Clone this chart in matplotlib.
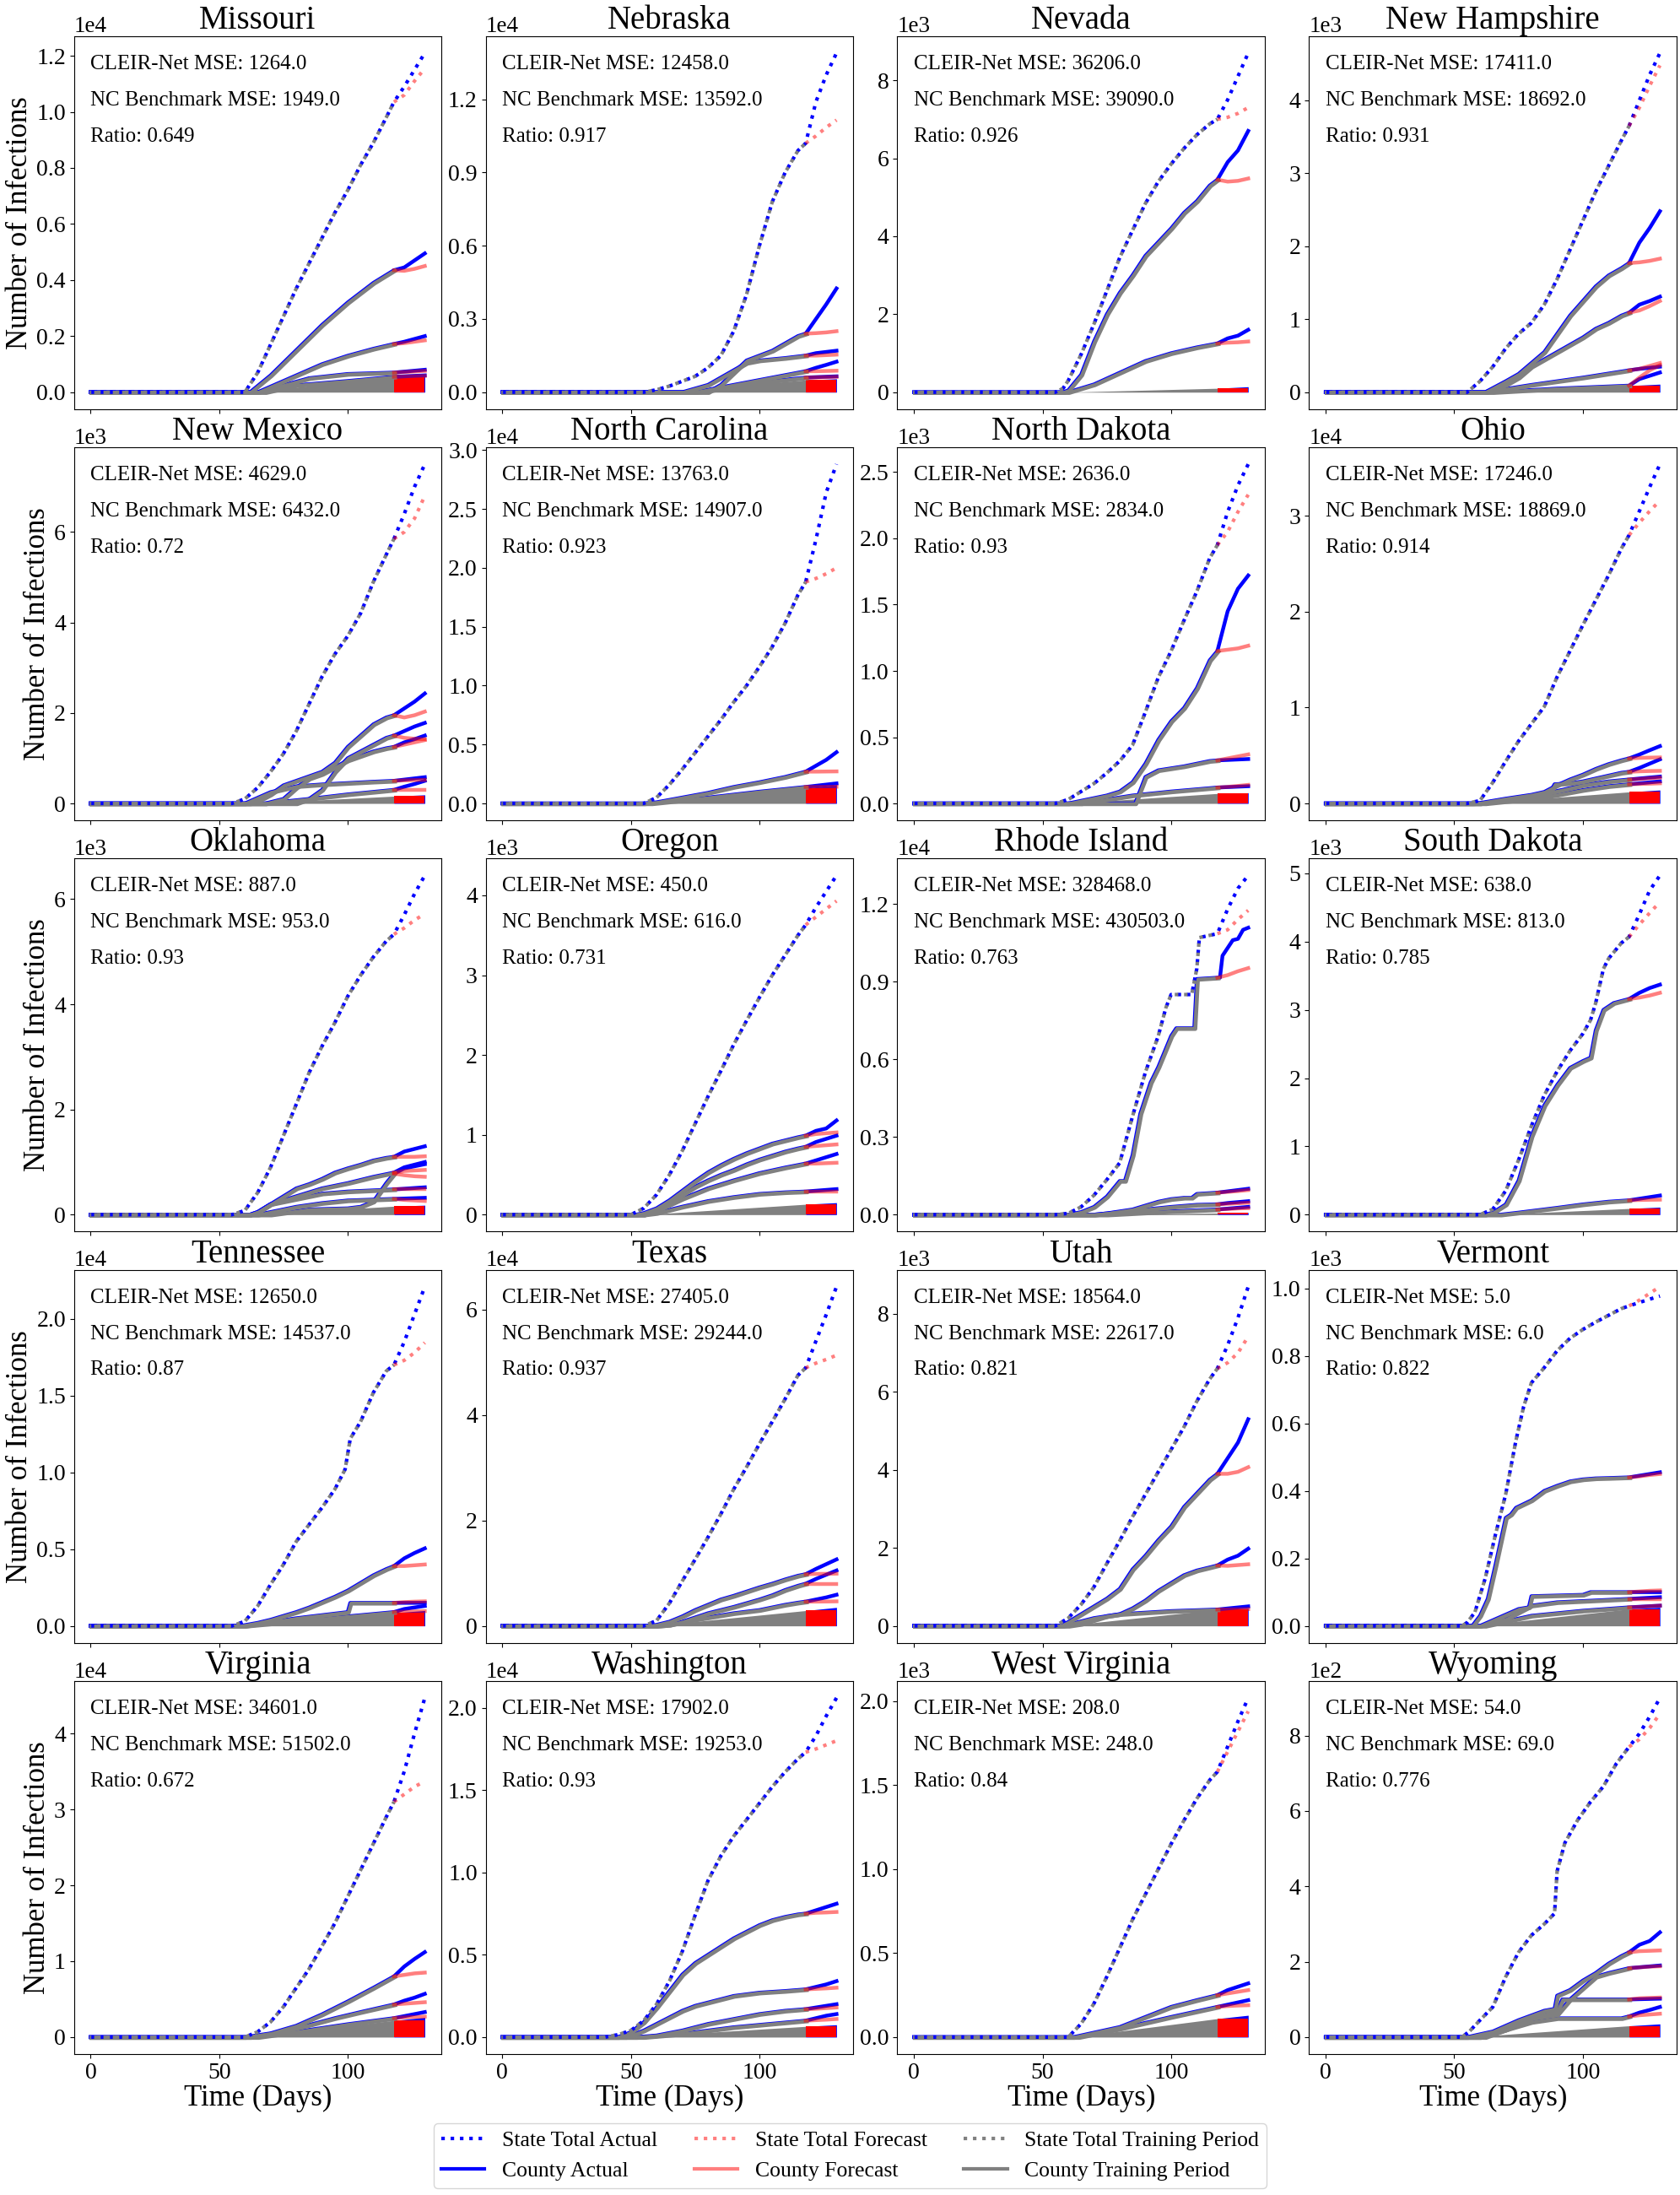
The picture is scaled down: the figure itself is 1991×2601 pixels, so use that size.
import matplotlib
matplotlib.use('Agg')
import matplotlib.pyplot as plt
import matplotlib.transforms as mtransforms
from matplotlib.lines import Line2D
from matplotlib.ticker import MultipleLocator, ScalarFormatter

plt.rcParams['font.family'] = ['Liberation Serif', 'DejaVu Serif']

STATES = ['Missouri', 'Nebraska', 'Nevada', 'New Hampshire', 'New Mexico',
          'North Carolina', 'North Dakota', 'Ohio', 'Oklahoma', 'Oregon',
          'Rhode Island', 'South Dakota', 'Tennessee', 'Texas', 'Utah',
          'Vermont', 'Virginia', 'Washington', 'West Virginia', 'Wyoming']
CLEIR_MSE = [1264.0, 12458.0, 36206.0, 17411.0, 4629.0, 13763.0, 2636.0, 17246.0,
             887.0, 450.0, 328468.0, 638.0, 12650.0, 27405.0, 18564.0, 5.0,
             34601.0, 17902.0, 208.0, 54.0]
NC_MSE = [1949.0, 13592.0, 39090.0, 18692.0, 6432.0, 14907.0, 2834.0, 18869.0,
          953.0, 616.0, 430503.0, 813.0, 14537.0, 29244.0, 22617.0, 6.0,
          51502.0, 19253.0, 248.0, 69.0]
RATIO = [0.649, 0.917, 0.926, 0.931, 0.72, 0.923, 0.93, 0.914, 0.93, 0.731,
         0.763, 0.785, 0.87, 0.937, 0.821, 0.822, 0.672, 0.93, 0.84, 0.776]
YSTEP = [2000, 3000, 2000, 1000, 2000, 5000, 500, 10000, 2000, 1000,
         3000, 1000, 5000, 20000, 2000, 200, 10000, 5000, 500, 200]

TRAIN_END = 118
FC_DAYS = [118, 122, 126, 130]

# state totals (day, cases)
TOTAL_ACTUAL = [
    [(0,0),(60,0),(65,700),(70,1700),(75,2700),(80,3700),(85,4600),(90,5500),(95,6400),(100,7200),(105,8100),(110,8900),(115,9800),(118,10350),(122,10900),(126,11500),(130,12100)],
    [(0,0),(55,0),(60,100),(65,250),(70,450),(75,650),(80,1000),(85,1500),(90,2500),(95,4000),(100,6000),(105,7800),(110,9000),(115,9900),(118,10200),(122,11900),(126,13000),(130,13900)],
    [(0,0),(55,0),(58,100),(60,300),(65,970),(70,1750),(75,2600),(80,3450),(85,4150),(90,4840),(95,5400),(100,5850),(105,6250),(110,6600),(115,6880),(118,7000),(122,7500),(126,8100),(130,8700)],
    [(0,0),(55,0),(60,150),(65,350),(70,600),(75,800),(80,950),(85,1200),(90,1550),(95,1950),(100,2350),(105,2750),(110,3100),(115,3450),(118,3650),(122,4000),(126,4350),(130,4650)],
    [(0,0),(55,0),(60,100),(65,350),(70,700),(75,1100),(80,1600),(85,2200),(90,2800),(95,3300),(100,3700),(105,4200),(110,4900),(115,5500),(118,5850),(122,6400),(126,7000),(130,7500)],
    [(0,0),(55,0),(60,500),(65,1600),(70,2900),(75,4300),(80,5700),(85,7100),(90,8600),(95,10000),(100,11600),(105,13300),(110,15300),(115,17700),(118,18800),(122,22400),(126,26400),(130,28800)],
    [(0,0),(55,0),(60,30),(65,90),(70,150),(75,230),(80,320),(85,440),(90,690),(95,950),(100,1150),(105,1380),(110,1600),(115,1850),(118,1950),(122,2200),(126,2400),(130,2560)],
    [(0,0),(55,0),(60,300),(65,2200),(70,4400),(75,6500),(80,8300),(85,10100),(90,13200),(95,15900),(100,18600),(105,21200),(110,23800),(115,26600),(118,28000),(122,30500),(126,33000),(130,35400)],
    [(0,0),(55,0),(60,80),(65,420),(70,900),(75,1500),(80,2100),(85,2700),(90,3200),(95,3650),(100,4150),(105,4550),(110,4900),(115,5200),(118,5330),(122,5700),(126,6100),(130,6450)],
    [(0,0),(50,0),(55,80),(60,250),(65,500),(70,800),(75,1140),(80,1480),(85,1800),(90,2130),(95,2430),(100,2720),(105,3000),(110,3250),(115,3500),(118,3630),(122,3850),(126,4050),(130,4250)],
    [(0,0),(55,0),(60,50),(65,300),(70,750),(75,1350),(80,2000),(85,3800),(90,5500),(95,6900),(98,8000),(100,8500),(108,8500),(110,9500),(111,10700),(118,10850),(122,11800),(126,12600),(130,13100)],
    [(0,0),(60,0),(65,80),(70,350),(75,800),(80,1300),(85,1750),(90,2100),(95,2400),(100,2650),(103,2850),(105,3100),(108,3600),(110,3750),(115,3980),(118,4070),(122,4400),(126,4750),(130,4970)],
    [(0,0),(55,0),(60,300),(65,1300),(70,2700),(75,4000),(80,5500),(85,6600),(90,7700),(95,8900),(99,10200),(101,12200),(105,13300),(110,15200),(115,16600),(118,17000),(122,18500),(126,20300),(130,22100)],
    [(0,0),(55,0),(60,1000),(65,4300),(70,8500),(75,12600),(80,16800),(85,21200),(90,25900),(95,30100),(100,34500),(105,38700),(110,43000),(115,47500),(118,48900),(122,54000),(126,59000),(130,64300)],
    [(0,0),(55,0),(60,200),(65,550),(70,1000),(75,1600),(80,2180),(85,2800),(90,3370),(95,3950),(100,4520),(105,5100),(110,5760),(115,6330),(118,6600),(122,7200),(126,7900),(130,8700)],
    [(0,0),(53,0),(55,10),(58,40),(62,140),(66,270),(70,390),(74,550),(77,650),(80,720),(85,765),(90,815),(95,852),(100,878),(105,900),(110,920),(115,940),(118,948),(122,958),(126,968),(130,977)],
    [(0,0),(60,0),(65,700),(70,2000),(75,4000),(80,6500),(85,9000),(90,12000),(95,15000),(100,18500),(105,22000),(110,25500),(115,29000),(118,31000),(122,35000),(126,40000),(130,44700)],
    [(0,0),(40,0),(45,150),(50,400),(55,1000),(60,2000),(65,3400),(70,5200),(75,7400),(80,9500),(85,11000),(90,12200),(95,13200),(100,14200),(105,15200),(110,16100),(115,16900),(118,17300),(122,18300),(126,19500),(130,20600)],
    [(0,0),(60,0),(65,80),(70,200),(75,360),(80,530),(85,700),(90,850),(95,1000),(100,1150),(105,1290),(110,1420),(115,1530),(118,1580),(122,1730),(126,1880),(130,2020)],
    [(0,0),(53,0),(56,16),(60,45),(65,80),(70,160),(75,225),(80,270),(85,300),(89,328),(90,440),(93,515),(98,576),(103,624),(108,665),(113,725),(118,770),(122,805),(126,850),(130,900)],
]
# state forecast at days 122, 126, 130
TOTAL_FORECAST = [
    [10600, 11100, 11550], [10500, 10850, 11150], [7050, 7150, 7300], [3900, 4200, 4480],
    [6000, 6300, 6800], [19100, 19500, 20000], [2050, 2200, 2330], [29300, 30500, 31600],
    [5450, 5600, 5720], [3730, 3830, 3930], [11000, 11400, 11750], [4250, 4420, 4580],
    [17300, 17800, 18450], [49800, 50500, 51300], [6750, 7000, 7420], [965, 985, 1005],
    [32000, 33000, 33700], [17500, 17750, 18000], [1700, 1820, 1940], [790, 820, 858],
]

# largest counties per state (day, cases)
COUNTY_ACTUAL = [
    [[(0,0),(62,0),(70,600),(80,1500),(90,2400),(100,3200),(110,3900),(118,4350),(122,4450),(126,4700),(130,4950)],
     [(0,0),(65,0),(70,200),(80,600),(90,1000),(100,1300),(110,1550),(118,1720),(122,1800),(126,1900),(130,2000)],
     [(0,0),(65,0),(75,250),(85,500),(100,650),(118,700),(130,800)],
     [(0,0),(68,0),(80,250),(100,400),(118,550),(130,600)]],
    [[(0,0),(80,0),(85,300),(90,800),(95,1300),(100,1500),(105,1700),(110,2000),(115,2300),(118,2400),(122,3000),(126,3600),(130,4250)],
     [(0,0),(70,0),(80,300),(90,900),(95,1200),(100,1300),(110,1400),(118,1500),(122,1600),(126,1650),(130,1700)],
     [(0,0),(75,0),(90,300),(100,500),(110,700),(118,860),(122,1000),(126,1120),(130,1250)],
     [(0,0),(75,0),(90,200),(100,400),(118,600),(130,650)]],
    [[(0,0),(58,0),(60,50),(65,450),(70,1300),(75,2000),(80,2550),(85,3000),(90,3500),(95,3850),(100,4200),(105,4600),(110,4900),(115,5300),(118,5450),(122,5900),(126,6200),(130,6700)],
     [(0,0),(60,0),(70,200),(80,500),(90,800),(100,1000),(110,1150),(118,1250),(122,1380),(126,1450),(130,1600)]],
    [[(0,0),(62,0),(70,150),(75,250),(80,400),(85,550),(90,800),(95,1050),(100,1250),(105,1450),(110,1600),(115,1700),(118,1770),(122,2050),(126,2250),(130,2480)],
     [(0,0),(62,0),(70,100),(75,200),(80,350),(85,450),(90,550),(95,650),(100,750),(105,870),(110,950),(115,1050),(118,1090),(122,1200),(126,1250),(130,1310)],
     [(0,0),(62,0),(80,100),(100,200),(118,300),(122,320),(130,350)],
     [(0,0),(65,0),(90,50),(118,90),(122,180),(130,270)]],
    [[(0,0),(62,0),(65,50),(70,200),(75,400),(80,500),(85,600),(90,700),(95,900),(100,1250),(105,1500),(110,1750),(115,1900),(118,1950),(122,2100),(126,2250),(130,2430)],
     [(0,0),(80,0),(85,100),(90,300),(95,700),(100,1000),(105,1150),(110,1300),(115,1450),(118,1500),(122,1600),(126,1700),(130,1780)],
     [(0,0),(68,0),(75,100),(80,350),(85,550),(90,650),(95,800),(100,950),(105,1050),(110,1150),(115,1220),(118,1250),(122,1350),(126,1420),(130,1500)],
     [(0,0),(60,0),(70,250),(80,380),(90,420),(100,450),(110,480),(118,500),(130,580)],
     [(0,0),(68,0),(85,100),(100,200),(118,300),(122,370),(126,430),(130,500)]],
    [[(0,0),(55,0),(60,100),(70,500),(80,900),(90,1400),(100,1800),(110,2250),(118,2700),(122,3200),(126,3700),(130,4350)],
     [(0,0),(58,0),(80,500),(100,1000),(118,1400),(122,1500),(126,1600),(130,1700)]],
    [[(0,0),(60,0),(65,20),(70,40),(75,60),(80,90),(85,160),(90,300),(95,480),(100,620),(105,720),(110,870),(115,1080),(118,1150),(122,1450),(126,1620),(130,1720)],
     [(0,0),(86,0),(87,50),(90,200),(95,250),(100,265),(105,280),(110,300),(115,320),(118,325),(130,335)],
     [(0,0),(65,0),(85,60),(100,90),(118,120),(130,130)]],
    [[(0,0),(57,0),(60,50),(70,500),(80,900),(85,1200),(90,1900),(95,2500),(100,3000),(105,3600),(110,4100),(115,4500),(118,4700),(122,5100),(126,5550),(130,5980)],
     [(0,0),(60,0),(70,400),(80,700),(87,1000),(89,2000),(95,2100),(100,2300),(105,2600),(110,2900),(115,3200),(118,3300),(122,3700),(126,4150),(130,4600)],
     [(0,0),(60,0),(75,500),(90,1300),(100,1900),(110,2300),(118,2500),(130,2800)],
     [(0,0),(62,0),(80,500),(90,900),(100,1400),(110,1800),(118,2000),(130,2300)]],
    [[(0,0),(62,0),(65,50),(70,200),(75,350),(80,500),(85,580),(90,680),(95,800),(100,880),(105,950),(110,1030),(115,1080),(118,1100),(122,1200),(126,1250),(130,1300)],
     [(0,0),(62,0),(65,50),(70,200),(80,350),(90,500),(100,600),(110,720),(118,800),(122,900),(126,950),(130,1000)],
     [(0,0),(70,0),(85,100),(100,120),(105,150),(110,250),(115,600),(118,780),(122,880),(126,920),(130,960)],
     [(0,0),(62,0),(65,50),(70,200),(80,300),(90,400),(100,440),(118,480),(130,520)],
     [(0,0),(65,0),(70,50),(80,150),(90,220),(100,270),(118,300),(130,320)]],
    [[(0,0),(52,0),(55,20),(60,80),(65,180),(70,300),(75,420),(80,530),(85,620),(90,700),(95,770),(100,830),(105,890),(110,930),(115,970),(118,990),(122,1050),(126,1080),(130,1180)],
     [(0,0),(55,0),(60,50),(65,150),(70,250),(75,350),(80,430),(85,500),(90,560),(95,630),(100,690),(105,740),(110,790),(115,830),(118,850),(122,910),(126,950),(130,990)],
     [(0,0),(55,0),(60,50),(70,200),(80,330),(90,430),(100,520),(110,590),(118,640),(122,680),(126,720),(130,760)],
     [(0,0),(55,0),(60,20),(70,100),(80,170),(90,220),(100,260),(110,280),(118,290),(130,320)]],
    [[(0,0),(60,0),(65,100),(70,300),(75,700),(80,1300),(82,1300),(85,2300),(88,3900),(92,5100),(95,5700),(100,6900),(102,7200),(109,7200),(110,9100),(118,9150),(119,9150),(120,10000),(124,10600),(126,10650),(128,11000),(130,11080)],
     [(0,0),(70,0),(75,50),(85,200),(90,350),(95,500),(100,600),(105,650),(108,650),(110,800),(118,850),(122,900),(126,950),(130,1000)],
     [(0,0),(70,0),(80,100),(90,200),(100,300),(110,380),(118,400),(122,450),(130,520)],
     [(0,0),(75,0),(90,80),(100,130),(110,170),(118,200),(130,300)]],
    [[(0,0),(62,0),(65,30),(70,150),(75,500),(80,1150),(85,1600),(90,1900),(95,2150),(100,2250),(103,2300),(105,2700),(108,3000),(112,3100),(118,3160),(122,3250),(126,3320),(130,3370)],
     [(0,0),(68,0),(75,30),(90,100),(100,150),(110,190),(118,210),(130,280)]],
    [[(0,0),(58,0),(60,50),(65,200),(70,400),(75,650),(80,900),(85,1200),(90,1550),(95,1900),(100,2300),(105,2800),(110,3300),(115,3700),(118,3900),(122,4400),(126,4750),(130,5050)],
     [(0,0),(60,0),(80,500),(100,900),(101,1500),(118,1500),(130,1500)],
     [(0,0),(60,0),(118,900),(122,1100),(126,1200),(130,1300)]],
    [[(0,0),(57,0),(60,200),(65,800),(70,1800),(75,3000),(80,4000),(85,5000),(90,5700),(95,6500),(100,7300),(105,8000),(110,8800),(115,9500),(118,9800),(122,10800),(126,11700),(130,12600)],
     [(0,0),(60,0),(65,200),(70,800),(75,1600),(80,2400),(85,3000),(90,3600),(95,4300),(100,5000),(105,5800),(110,6800),(115,7600),(118,8000),(122,8900),(126,9700),(130,10500)],
     [(0,0),(60,0),(65,200),(70,700),(75,1200),(80,1600),(85,2000),(90,2400),(95,2700),(100,3000),(105,3500),(110,4000),(115,4400),(118,4600),(122,5000),(126,5400),(130,5900)]],
    [[(0,0),(57,0),(60,100),(65,300),(70,500),(75,700),(80,950),(85,1450),(90,1800),(95,2200),(100,2550),(105,3050),(110,3400),(115,3750),(118,3900),(122,4300),(126,4700),(130,5300)],
     [(0,0),(60,0),(65,50),(70,150),(75,250),(80,300),(85,450),(90,650),(95,900),(100,1100),(105,1300),(110,1420),(115,1500),(118,1550),(122,1700),(126,1800),(130,1980)],
     [(0,0),(58,0),(70,200),(80,300),(100,380),(118,420),(130,500)]],
    [[(0,0),(57,0),(60,30),(63,80),(66,180),(68,250),(70,320),(72,330),(74,350),(80,372),(85,400),(90,415),(95,428),(100,434),(105,437),(110,438),(118,440),(122,445),(126,450),(130,455)],
     [(0,0),(60,0),(75,50),(79,55),(80,88),(100,92),(103,100),(118,100),(130,100)],
     [(0,0),(60,0),(70,20),(80,60),(90,70),(118,80),(130,85)],
     [(0,0),(62,0),(80,30),(100,45),(118,55),(130,60)]],
    [[(0,0),(60,0),(70,500),(80,1500),(90,3000),(100,4700),(110,6500),(118,8000),(122,9300),(126,10300),(130,11200)],
     [(0,0),(62,0),(65,100),(75,800),(85,1600),(95,2500),(105,3300),(118,4300),(122,4800),(126,5200),(130,5700)],
     [(0,0),(65,0),(80,700),(100,1700),(118,2500),(130,3300)]],
    [[(0,0),(45,0),(50,300),(55,900),(60,1800),(65,2800),(70,3800),(75,4500),(80,5000),(85,5500),(90,6000),(95,6400),(100,6800),(105,7100),(110,7300),(115,7450),(118,7500),(122,7700),(126,7900),(130,8100)],
     [(0,0),(48,0),(50,100),(55,400),(60,800),(65,1200),(70,1600),(75,1900),(80,2100),(85,2300),(90,2500),(95,2600),(100,2700),(110,2800),(118,2900),(122,3050),(126,3200),(130,3400)],
     [(0,0),(52,0),(60,100),(70,400),(80,800),(90,1100),(100,1400),(110,1600),(118,1700),(122,1800),(126,1900),(130,2000)],
     [(0,0),(55,0),(70,200),(90,600),(118,1000),(122,1150),(126,1300),(130,1400)]],
    [[(0,0),(62,0),(65,10),(80,60),(90,120),(100,180),(110,220),(118,250),(122,280),(126,300),(130,320)],
     [(0,0),(64,0),(80,50),(100,120),(118,180),(130,220)]],
    [[(0,0),(55,0),(65,15),(75,45),(85,70),(89,75),(90,110),(95,125),(100,150),(105,170),(110,195),(115,215),(118,225),(122,245),(126,255),(130,278)],
     [(0,0),(60,0),(70,20),(80,50),(90,60),(95,100),(100,130),(105,160),(110,170),(118,183),(130,190)],
     [(0,0),(60,0),(70,20),(80,50),(90,70),(92,100),(118,100),(130,102)],
     [(0,0),(62,0),(70,20),(80,40),(90,50),(100,50),(115,50),(118,55),(122,65),(126,72),(130,80)]],
]
# county forecasts at days 122, 126, 130
COUNTY_FORECAST = [
    [[4330, 4400, 4500], [1750, 1800, 1850], [720, 740, 760], [560, 570, 580]],
    [[2420, 2450, 2500], [1500, 1520, 1540], [860, 870, 880], [610, 620, 630]],
    [[5400, 5420, 5480], [1270, 1280, 1300]],
    [[1780, 1800, 1830], [1120, 1180, 1250], [320, 360, 400], [200, 300, 370]],
    [[1900, 1950, 2030], [1450, 1430, 1420], [1300, 1350, 1400], [510, 515, 520], [300, 300, 300]],
    [[2700, 2710, 2720], [1400, 1410, 1420]],
    [[1160, 1170, 1190], [340, 355, 370], [125, 132, 140]],
    [[4750, 4780, 4800], [3350, 3380, 3400], [2550, 2630, 2700], [2030, 2060, 2100]],
    [[1100, 1100, 1110], [830, 840, 850], [750, 730, 720], [480, 480, 480], [280, 270, 260]],
    [[1010, 1020, 1030], [860, 870, 880], [640, 645, 650], [290, 290, 290]],
    [[9250, 9400, 9520], [880, 910, 950], [420, 440, 460], [220, 240, 250]],
    [[3180, 3210, 3250], [215, 218, 220]],
    [[3900, 3950, 4000], [1550, 1580, 1600], [920, 940, 960]],
    [[9850, 9870, 9900], [8000, 8000, 8000], [4600, 4620, 4650]],
    [[3900, 3950, 4070], [1540, 1560, 1580], [420, 425, 430]],
    [[443, 447, 450], [102, 104, 105], [80, 80, 80], [56, 58, 60]],
    [[8200, 8400, 8500], [4400, 4500, 4600], [2600, 2650, 2700]],
    [[7550, 7570, 7600], [2930, 2960, 3000], [1720, 1760, 1800], [1030, 1060, 1100]],
    [[260, 270, 280], [185, 188, 190]],
    [[228, 229, 230], [185, 187, 188], [103, 104, 105], [58, 60, 62]],
]
# many small counties: (first day of growth, level at day 118, actual at day 130)
SMALL_COUNTIES = [
    (62, 550, 600), (60, 500, 550), (60, 100, 140), (62, 90, 110), (62, 160, 190),
    (58, 1300, 1600), (60, 75, 80), (58, 1200, 1400), (62, 160, 180), (55, 130, 150),
    (65, 60, 80), (65, 90, 110), (58, 850, 1000), (58, 2900, 3500), (58, 420, 450),
    (58, 50, 55), (62, 2200, 2600), (50, 650, 750), (62, 110, 130), (55, 30, 35),
]

fig, axes = plt.subplots(5, 4, figsize=(19.91, 26.01), dpi=100)
fig.subplots_adjust(left=0.044, right=0.998, top=0.9836, bottom=0.0642,
                    wspace=0.12, hspace=0.102)

# training-period curves sit a hair right/below the actual curves
nudge = mtransforms.ScaledTranslation(0.9 / 72, -0.6 / 72, fig.dpi_scale_trans)

for i, ax in enumerate(axes.flat):
    shifted = ax.transData + nudge

    # small counties block
    d0, lvl, act = SMALL_COUNTIES[i]
    ax.fill_between([d0, TRAIN_END], [0, 0], [0, lvl], color='gray', lw=0)
    ax.fill_between([TRAIN_END, 130], [0, 0], [lvl, act], color='blue', lw=0)
    ax.fill_between([TRAIN_END, 130], [0, 0], [lvl, lvl], color='red', lw=0)

    curves = COUNTY_ACTUAL[i]
    for cur in curves:
        d, v = zip(*cur)
        ax.plot(d, v, color='blue', lw=3.2)
    for cur in curves:
        tr = [p for p in cur if p[0] <= TRAIN_END]
        d, v = zip(*tr)
        ax.plot(d, v, color='gray', lw=3.4, transform=shifted)
    for cur, fc in zip(curves, COUNTY_FORECAST[i]):
        start = dict(cur)[TRAIN_END]
        ax.plot(FC_DAYS, [start] + fc, color='red', alpha=0.5, lw=3.2)

    # state total
    d, v = zip(*TOTAL_ACTUAL[i])
    ax.plot(d, v, color='blue', lw=3, ls=':')
    tr = [p for p in TOTAL_ACTUAL[i] if p[0] <= TRAIN_END]
    d, v = zip(*tr)
    ax.plot(d, v, color='gray', lw=3, ls=(0.8, (1, 1.65)))
    start = dict(TOTAL_ACTUAL[i])[TRAIN_END]
    ax.plot(FC_DAYS, [start] + TOTAL_FORECAST[i], color='red', alpha=0.5, lw=3, ls=':')

    ax.set_title(STATES[i], fontsize=28, pad=3)
    ax.text(0.045, 0.925, f'CLEIR-Net MSE: {CLEIR_MSE[i]}', transform=ax.transAxes,
            fontsize=18, va='center')
    ax.text(0.045, 0.828, f'NC Benchmark MSE: {NC_MSE[i]}', transform=ax.transAxes,
            fontsize=18, va='center')
    ax.text(0.045, 0.731, f'Ratio: {RATIO[i]}', transform=ax.transAxes,
            fontsize=18, va='center')

    ax.yaxis.set_major_locator(MultipleLocator(YSTEP[i]))
    fmt = ScalarFormatter(useOffset=False)
    fmt.set_powerlimits((0, 0))
    ax.yaxis.set_major_formatter(fmt)
    ax.yaxis.get_offset_text().set_fontsize(19.5)
    ax.set_xticks([0, 50, 100])
    ax.tick_params(labelsize=20)
    if i % 4 == 0:
        ax.set_ylabel('Number of Infections', fontsize=25, labelpad=2)
    if i >= 16:
        ax.set_xlabel('Time (Days)', fontsize=25, labelpad=1)
    else:
        ax.tick_params(labelbottom=False)

handles = [
    Line2D([], [], color='blue', lw=3, ls=':'),
    Line2D([], [], color='blue', lw=3),
    Line2D([], [], color='red', alpha=0.5, lw=3, ls=':'),
    Line2D([], [], color='red', alpha=0.5, lw=3),
    Line2D([], [], color='gray', lw=3, ls=':'),
    Line2D([], [], color='gray', lw=3),
]
labels = ['State Total Actual', 'County Actual', 'State Total Forecast',
          'County Forecast', 'State Total Training Period', 'County Training Period']
fig.legend(handles, labels, loc='lower center', bbox_to_anchor=(0.506, 0.0),
           ncol=3, fontsize=18.5, labelspacing=0.5, columnspacing=1.7,
           borderpad=0.35, borderaxespad=0.3)

fig.savefig('out.png', dpi=100)
